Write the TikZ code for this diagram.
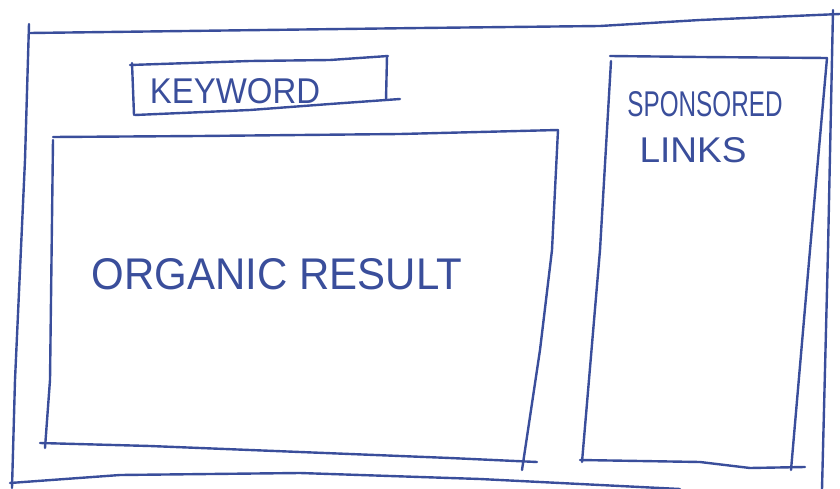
\documentclass[tikz,border=0pt]{standalone}
\usepackage{fontspec}
\setmainfont{Liberation Sans}
\usepackage{graphicx}
\definecolor{ink}{RGB}{58,78,155}
\newcommand{\hw}[3]{\resizebox{#1pt}{#2pt}{#3}}
\begin{document}
\begin{tikzpicture}[x=1pt,y=-1pt,
  pen/.style={draw=ink,line width=2.4pt,line cap=round,line join=round},
  lbl/.style={text=ink,inner sep=0pt,anchor=center}]
\useasboundingbox (0,0) rectangle (840,489);
% outer frame
\draw[pen] (30,33) -- (420,28) -- (600,26) -- (700,20) -- (840,14);
\draw[pen] (29,24) -- (25,160) -- (15,380) -- (12,488);
\draw[pen] (10,483) -- (120,475) -- (300,473) -- (480,479) -- (680,489);
\draw[pen] (833,10) -- (828,250) -- (822,489);
% keyword box
\draw[pen] (130,65) -- (250,61) -- (330,60) -- (388,56);
\draw[pen] (132,63) -- (134,115);
\draw[pen] (135,115) -- (250,110) -- (330,104) -- (400,99);
\draw[pen] (387,56) -- (386,100);
\node[lbl] (kw) at (235,91) {\hw{170}{25}{KEYWORD}};
% organic results box
\draw[pen] (53,137) -- (200,136) -- (400,134) -- (558,130);
\draw[pen] (53,140) -- (50,380) -- (45,448);
\draw[pen] (40,443) -- (150,446) -- (300,452) -- (450,458) -- (537,462);
\draw[pen] (558,130) -- (552,250) -- (540,350) -- (522,470);
\node[lbl] (org) at (277,274) {\hw{370}{31}{ORGANIC RESULT}};
% sponsored links box
\draw[pen] (610,56) -- (700,57) -- (827,58);
\draw[pen] (611,61) -- (600,250) -- (582,462);
\draw[pen] (580,460) -- (700,462) -- (750,468) -- (805,467);
\draw[pen] (827,58) -- (810,250) -- (791,470);
\node[lbl] (sp) at (705,104) {\hw{155}{25}{SPONSORED}};
\node[lbl] (li) at (693,150) {\hw{107}{25}{LINKS}};
\end{tikzpicture}
\end{document}
